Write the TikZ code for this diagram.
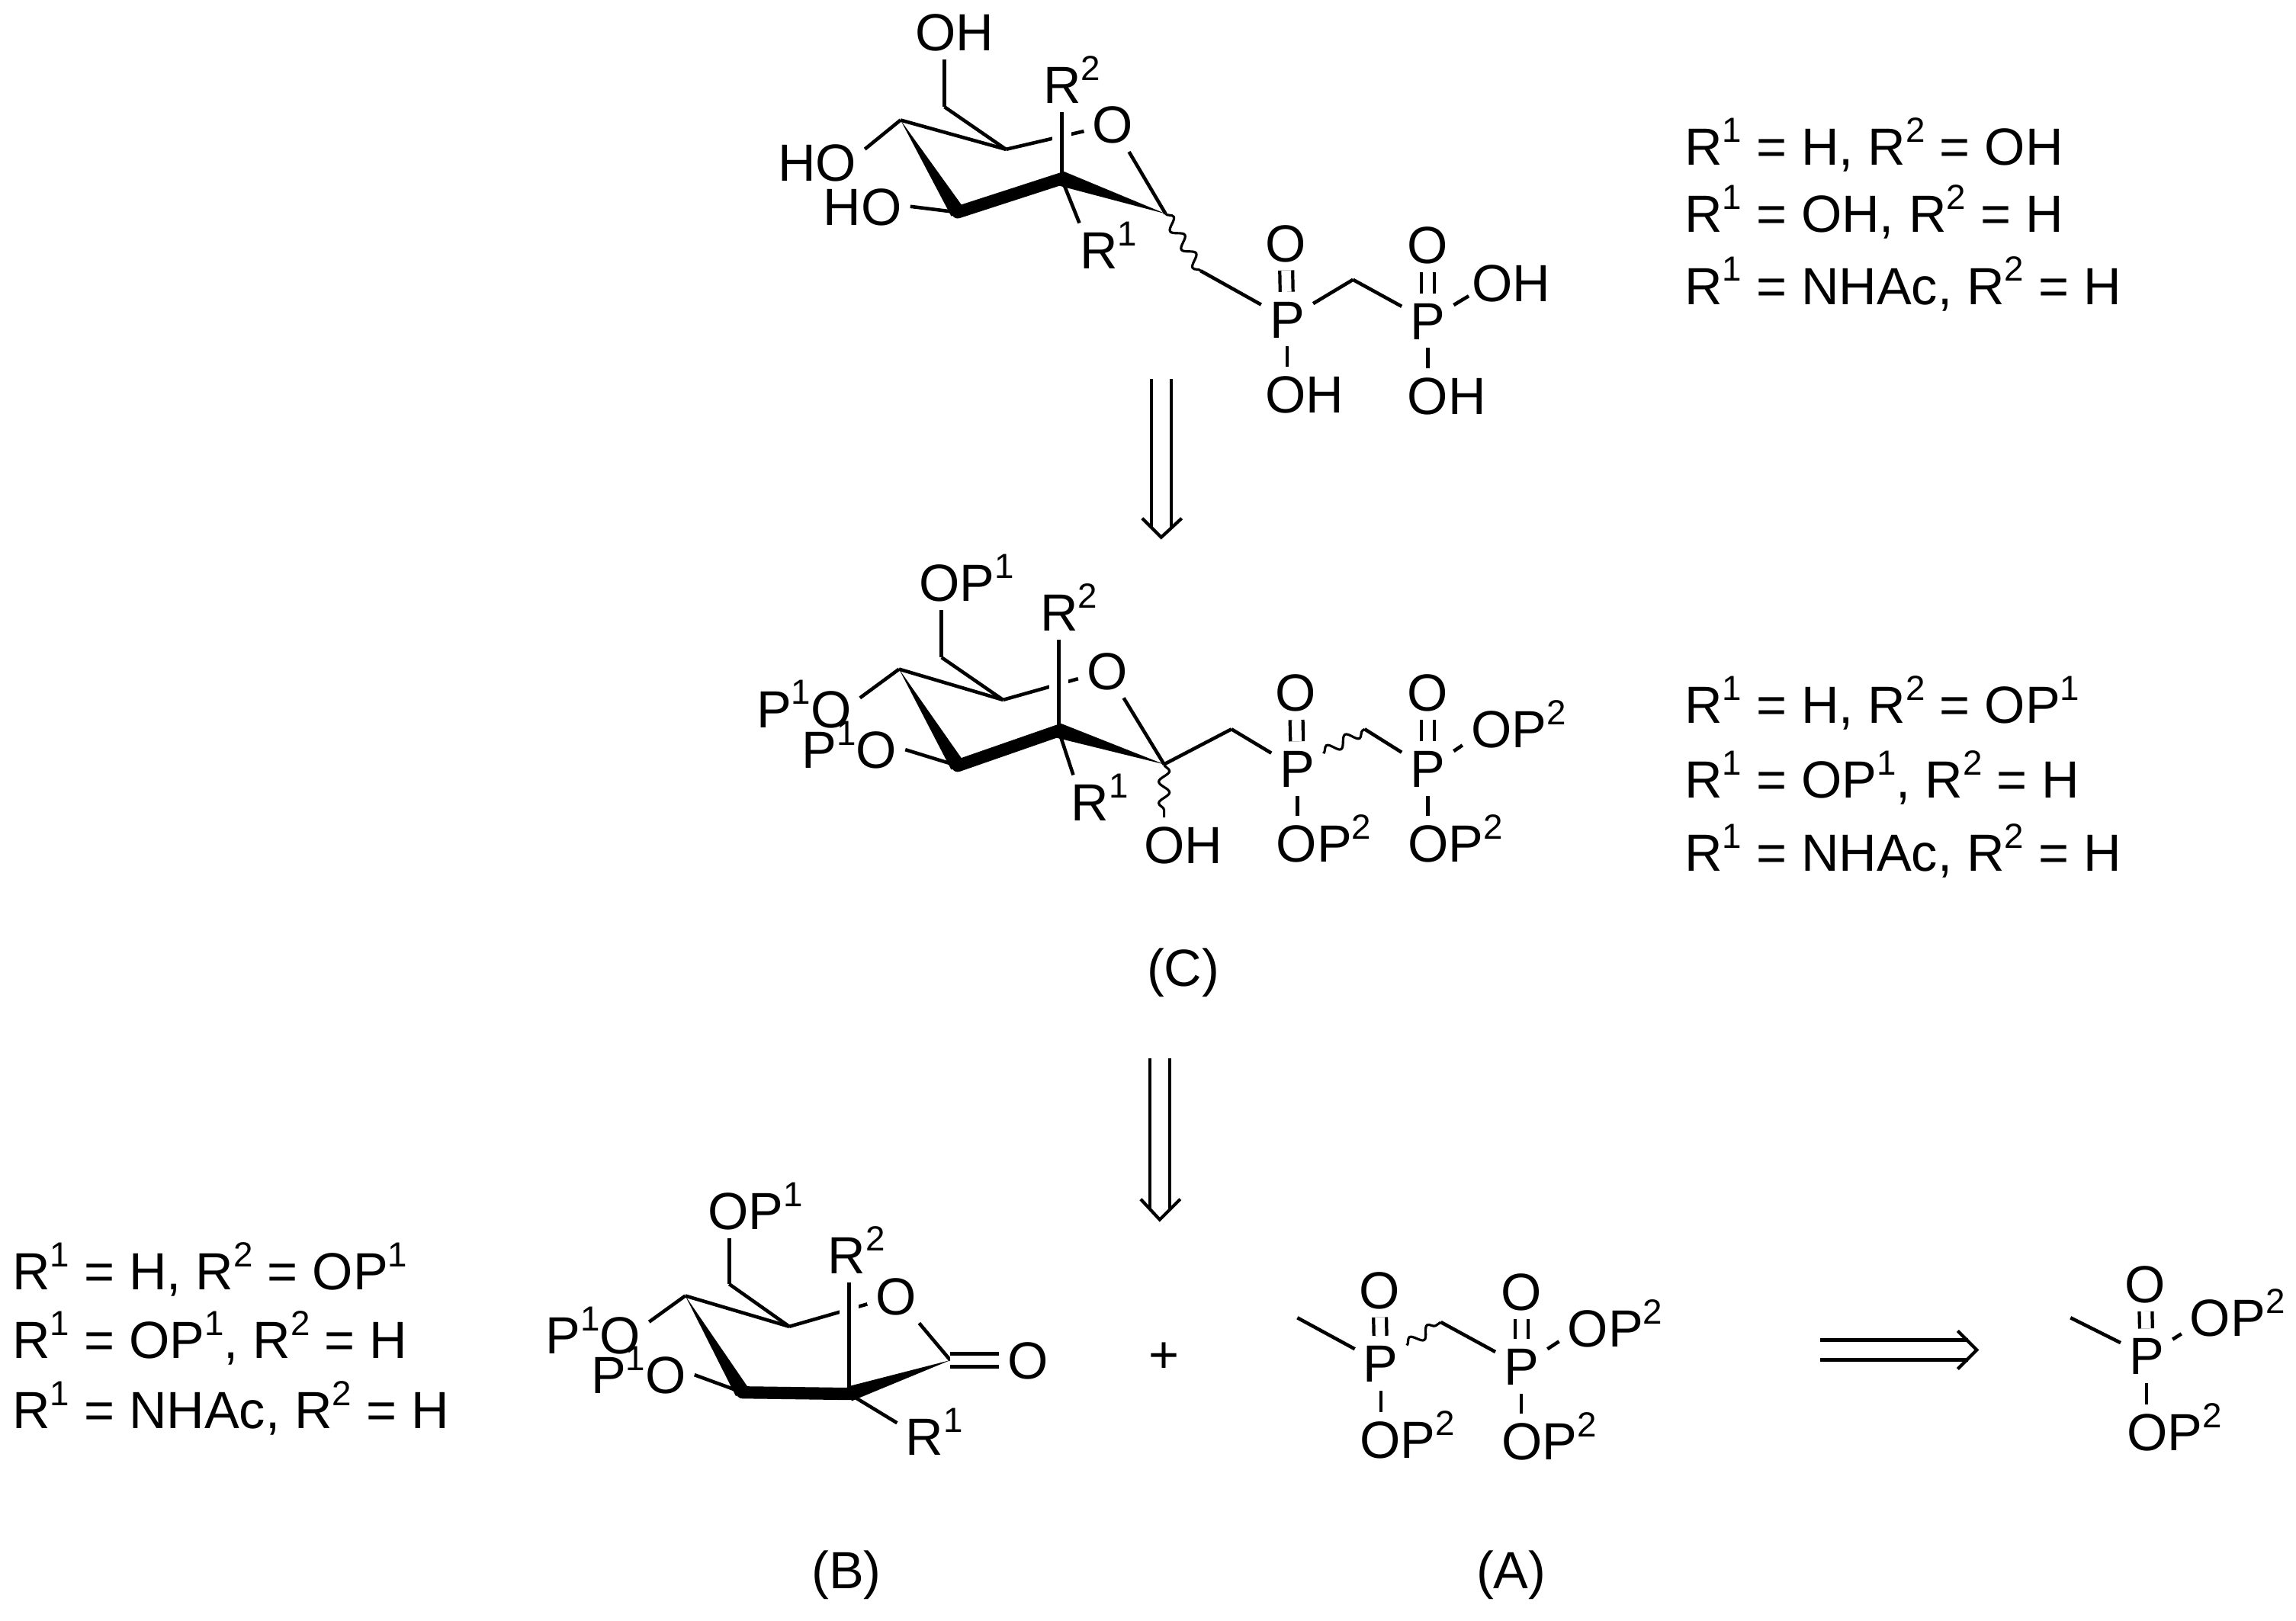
\documentclass[tikz,border=0pt]{standalone}
\usepackage{fontspec}
\setmainfont{Liberation Sans}
\usetikzlibrary{calc,decorations.pathmorphing}
\newcommand{\supnum}[1]{\raisebox{0.44em}{\fontsize{13}{13}\selectfont #1}}
\newcommand{\wedgebond}[2]{\fill (#1) -- ($(#2)!2.8pt!90:(#1)$) -- ($(#2)!2.8pt!-90:(#1)$) -- cycle;}
\tikzset{
    atom/.style={inner sep=3pt, text height=14pt, text depth=0pt},
    listline/.style={anchor=west, inner sep=0pt, text height=14pt, text depth=0pt},
    bondline/.style={line width=1.3pt},
    bondover/.style={line width=1.3pt, preaction={draw=white, line width=7pt}},
    boldbond/.style={line width=4.6pt, line cap=round},
    dblbond/.style={line width=1.2pt, double, double distance=3.6pt},
    wavybond/.style={line width=0.9pt, decorate, decoration={snake, amplitude=2pt, segment length=8pt}},
    retrobond/.style={line width=1.2pt, double, double distance=6.2pt}
}
\begin{document}
\begin{tikzpicture}[x=0.019203cm, y=-0.019203cm, font=\fontsize{19.5}{24}\selectfont]
\useasboundingbox (0,0) rectangle (1568,1107);

% Carbons and free bond ends
\foreach \name/\x/\y in {
    topC4/615/82, topC3/654/145, topC2/725/122, topC1/796/146, topC5/687/102, topC6/645/73, topCh/820/185, topChb/924/191,
    midC4/614/457, midC3/654/523, midC2/723/499, midC1/795/522, midC5/685/478, midC6/643/449, midCh/841/498, midChb/932/498,
    botC4/468/885, botC3/507/951, botC2/580/952, botC1/649/929, botC5/539/906, botC6/498/877,
    acidMe/886/900, acidCh/984/903, monoMe/1414/900,
    arrowAs/793/259, arrowAe/793/360, arrowAl/780/354, arrowAr/807/354, arrowAt/793/367,
    arrowBs/792/723, arrowBe/792/826, arrowBl/779/819, arrowBr/806/819, arrowBt/792/833,
    arrowCs/1243/922, arrowCe/1344/922, arrowCl/1337/909, arrowCr/1337/935, arrowCt/1350/922} {
    \coordinate (\name) at (\x,\y);
}

% Atom labels
\foreach \name/\x/\y/\txt in {
    topOH/652/22/OH, topHOa/558/111/HO, topHOb/589/141/HO, topRtwo/732/58/{R\supnum{2}}, topRone/757/171/{R\supnum{1}},
    topO/760/85/O, topPa/879/218/P, topPb/975/219/P, topOa/878/166/O, topOb/975/167/O,
    topOHc/1032/193/OH, topOHa2/891/269/OH, topOHb2/988/270/OH,
    midOP/660/398/{OP\supnum{1}}, midPOa/549/484/{P\supnum{1}O}, midPOb/580/512/{P\supnum{1}O},
    midRtwo/730/418/{R\supnum{2}}, midRone/751/548/{R\supnum{1}}, midO/756/458/O, midOH/808/577/OH,
    midPa/886/525/P, midPb/975/525/P, midOa/885/473/O, midOb/975/473/O,
    midOPc/1037/498/{OP\supnum{2}}, midOPa/904/576/{OP\supnum{2}}, midOPb/994/576/{OP\supnum{2}},
    botOP/516/827/{OP\supnum{1}}, botPOa/405/912/{P\supnum{1}O}, botPOb/436/939/{P\supnum{1}O},
    botRtwo/585/857/{R\supnum{2}}, botRone/638/981/{R\supnum{1}}, botO/612/885/O, botOc/702/929/O,
    acidPa/943/931/P, acidPb/1039/933/P, acidOa/942/881/O, acidOb/1039/882/O,
    acidOPc/1103/907/{OP\supnum{2}}, acidOPa/961/983/{OP\supnum{2}}, acidOPb/1058/984/{OP\supnum{2}},
    monoP/1466/926/P, monoO/1465/877/O, monoOPc/1528/900/{OP\supnum{2}}, monoOPa/1485/978/{OP\supnum{2}},
    plusSign/795/925/+, tagC/808/661/(C), tagB/578/1072/(B), tagA/1032/1072/(A)} {
    \node[atom] (\name) at (\x,\y) {\txt};
}

% Substituent lists
\foreach \i/\x/\y/\txt in {
    1/1150/100/{R\supnum{1} = H, R\supnum{2} = OH},
    2/1150/146/{R\supnum{1} = OH, R\supnum{2} = H},
    3/1150/195/{R\supnum{1} = NHAc, R\supnum{2} = H},
    4/1150/481/{R\supnum{1} = H, R\supnum{2} = OP\supnum{1}},
    5/1150/532/{R\supnum{1} = OP\supnum{1}, R\supnum{2} = H},
    6/1150/582/{R\supnum{1} = NHAc, R\supnum{2} = H},
    7/8/868/{R\supnum{1} = H, R\supnum{2} = OP\supnum{1}},
    8/8/915/{R\supnum{1} = OP\supnum{1}, R\supnum{2} = H},
    9/8/963/{R\supnum{1} = NHAc, R\supnum{2} = H}} {
    \node[listline] (list\i) at (\x,\y) {\txt};
}

% Plain bonds
\foreach \a/\b in {
    topC4/topC5, topC5/topO, topC1/topO, topC5/topC6, topC6/topC6 |- topOH.south,
    topC3/topHOb.east, topPa/topCh, topPa/topChb, topChb/topPb,
    midC4/midC5, midC5/midO, midC1/midO, midC5/midC6, midC6/midC6 |- midOP.south,
    midC3/midPOb.east, midC1/midCh, midCh/midPa, midChb/midPb,
    botC4/botC5, botC5/botO, botC1/botO, botC5/botC6, botC6/botC6 |- botOP.south,
    botC3/botPOb.east, acidMe/acidPa, acidCh/acidPb, monoMe/monoP} {
    \draw[bondline] (\a) -- (\b);
}
\draw[bondline] (topC4) -- ([yshift=5pt]topHOa.east);
\draw[bondline] (midC4) -- ([yshift=4pt]midPOa.east);
\draw[bondline] (botC4) -- ([yshift=5pt]botPOa.east);
\draw[bondline] (topC2) -- ([xshift=3pt]topRone.north west);
\draw[bondline] (midC2) -- ([xshift=4pt]midRone.north west);
\draw[bondline] (botC2) -- ([yshift=5pt]botRone.west);
\draw[bondline] (topPb) -- ([xshift=2pt,yshift=-5pt]topOHc.west);
\draw[bondline] (midPb) -- ([yshift=-6pt]midOPc.west);
\draw[bondline] (acidPb) -- ([yshift=-5pt]acidOPc.west);
\draw[bondline] (monoP) -- ([yshift=-6pt]monoOPc.west);

% P-O single bonds going down
\foreach \p/\o in {topPa/topOHa2, topPb/topOHb2, midPa/midOPa, midPb/midOPb, acidPa/acidOPa, acidPb/acidOPb, monoP/monoOPa} {
    \draw[bondline] (\p.south) -- (\p.south |- \o.north);
}

% Axial bonds pass in front of the ring oxygen bond
\draw[bondover] (topRtwo.south -| topC2) -- (topC2);
\draw[bondover] (midRtwo.south -| midC2) -- (midC2);
\draw[bondover] (botRtwo.south -| botC2) -- (botC2);

% Double bonds
\foreach \a/\b in {topPa/topOa, topPb/topOb, midPa/midOa, midPb/midOb, botC1/botOc, acidPa/acidOa, acidPb/acidOb, monoP/monoO} {
    \draw[dblbond] (\a) -- (\b);
}

% Wavy bonds
\draw[wavybond] (topC1) -- (topCh);
\draw[wavybond] (midC1) -- (midC1 |- midOH.north);
\draw[wavybond] (midPa) -- (midChb);
\draw[wavybond] (acidPa) -- (acidCh);

% Wedged and bold ring bonds
\foreach \r in {top,mid,bot} {
    \wedgebond{\r C4}{\r C3}
    \wedgebond{\r C1}{\r C2}
    \draw[boldbond] (\r C3) -- (\r C2);
}

% Retrosynthesis arrows
\foreach \n in {A,B,C} {
    \draw[retrobond] (arrow\n s) -- (arrow\n e);
    \draw[line width=1.2pt] (arrow\n l) -- (arrow\n t) -- (arrow\n r);
}
\end{tikzpicture}
\end{document}
